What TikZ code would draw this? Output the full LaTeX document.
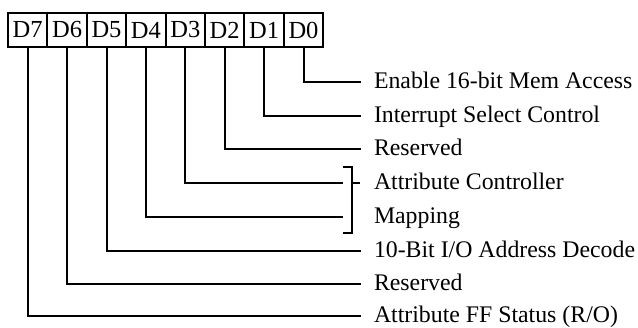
\documentclass[tikz,border=0pt]{standalone}
\usepackage{fontspec}
\setmainfont{Liberation Serif}
\usetikzlibrary{positioning}

\begin{document}
\begin{tikzpicture}[
    x=1pt, y=-1pt, line width=2pt,
    bit/.style={rectangle, draw, outer sep=0pt, inner sep=0pt,
      minimum width=39.4pt, minimum height=34pt,
      font=\fontsize{24.5}{27}\selectfont},
    lab/.style={anchor=west, inner xsep=13pt, inner ysep=0pt,
      text height=14pt, text depth=0pt,
      font=\fontsize{23.8}{27}\selectfont},
    wire/.style={line cap=rect}
]
\useasboundingbox (0,0) rectangle (638,328);
% register bits
\node[bit, anchor=north west] (d7) at (8,13) {D7};
\node[bit, right=0pt of d7] (d6) {D6};
\node[bit, right=0pt of d6] (d5) {D5};
\node[bit, right=0pt of d5] (d4) {D4};
\node[bit, right=0pt of d4] (d3) {D3};
\node[bit, right=0pt of d3] (d2) {D2};
\node[bit, right=0pt of d2] (d1) {D1};
\node[bit, right=0pt of d1] (d0) {D0};
% bit names
\node[lab] (l0) at (360,82)  {Enable 16-bit Mem Access};
\node[lab] (l1) at (360,116) {Interrupt Select Control};
\node[lab] (l2) at (360,149) {Reserved};
\node[lab] (l3) at (360,183) {Attribute Controller};
\node[lab] (l4) at (360,217) {Mapping};
\node[lab] (l5) at (360,251) {10-Bit I/O Address Decode};
\node[lab] (l6) at (360,284) {Reserved};
\node[lab] (l7) at (360,316) {Attribute FF Status (R/O)};
% leads
\draw[wire] (d0.south) |- (l0.west);
\draw[wire] (d1.south) |- (l1.west);
\draw[wire] (d2.south) |- (l2.west);
\draw[wire] (d3.south) |- ([xshift=-18pt]l3.west);
\draw[wire] (d4.south) |- ([xshift=-18pt]l4.west);
\draw[wire] (d5.south) |- (l5.west);
\draw[wire] (d6.south) |- (l6.west);
\draw[wire] (d7.south) |- (l7.west);
% bracket for D3/D4
\draw ([xshift=-17pt,yshift=16pt]l3.west) -| ([xshift=-8pt,yshift=-16pt]l4.west) -- ++(-9,0);
\draw ([xshift=-8pt]l3.west) -- (l3.west);
\end{tikzpicture}
\end{document}
